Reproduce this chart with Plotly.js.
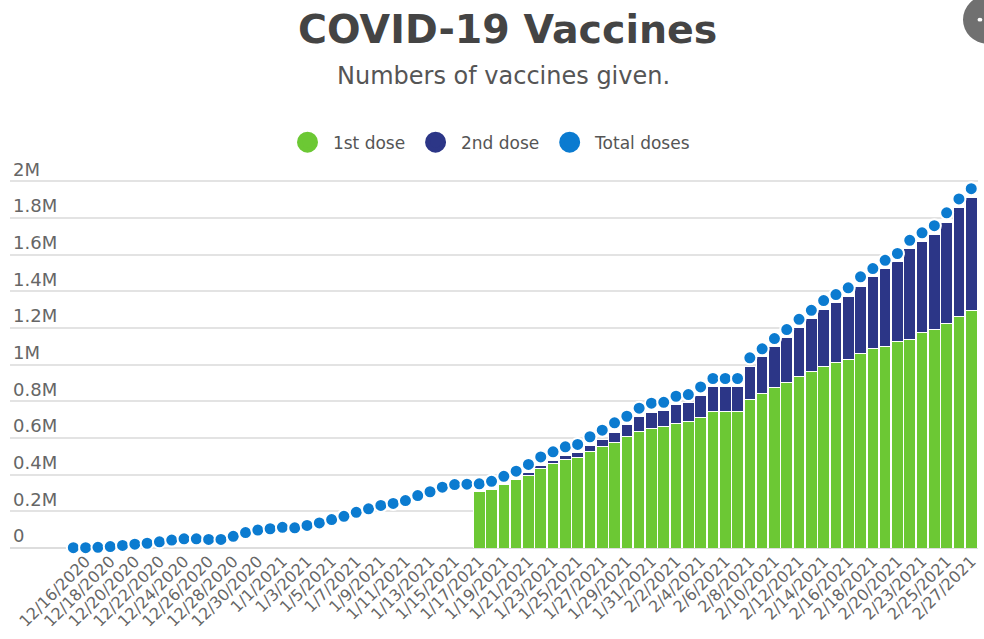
<!DOCTYPE html>
<html>
<head>
<meta charset="utf-8">
<script src="https://cdn.plot.ly/plotly-3.0.1.min.js"></script>
<style>html,body{margin:0;padding:0;background:#fff;}#chart{width:984px;height:639px;}</style>
</head>
<body>
<div id="chart"></div>
<script>
const dates = [
 "12/15/2020","12/16/2020","12/17/2020","12/18/2020","12/19/2020","12/20/2020","12/21/2020","12/22/2020","12/23/2020","12/24/2020",
 "12/25/2020","12/26/2020","12/27/2020","12/28/2020","12/29/2020","12/30/2020","12/31/2020",
 "1/1/2021","1/2/2021","1/3/2021","1/4/2021","1/5/2021","1/6/2021","1/7/2021","1/8/2021","1/9/2021","1/10/2021",
 "1/11/2021","1/12/2021","1/13/2021","1/14/2021","1/15/2021","1/16/2021","1/17/2021","1/18/2021","1/19/2021","1/20/2021",
 "1/21/2021","1/22/2021","1/23/2021","1/24/2021","1/25/2021","1/26/2021","1/27/2021","1/28/2021","1/29/2021","1/30/2021","1/31/2021",
 "2/1/2021","2/2/2021","2/3/2021","2/4/2021","2/5/2021","2/6/2021","2/7/2021","2/8/2021","2/9/2021","2/10/2021",
 "2/11/2021","2/12/2021","2/13/2021","2/14/2021","2/15/2021","2/16/2021","2/17/2021","2/18/2021","2/19/2021","2/20/2021",
 "2/22/2021","2/23/2021","2/24/2021","2/25/2021","2/26/2021","2/27/2021"
];

const firstDose = [
 null,null,null,null,null,null,null,null,null,null,
 null,null,null,null,null,null,null,null,null,null,
 null,null,null,null,null,null,null,null,null,null,
 null,null,null,
 310000,319000,346000,373000,396000,432000,460000,482000,495000,528000,
 552000,577000,606000,636000,650000,661000,679000,688000,714000,746000,
 746000,746000,810000,843000,874000,901000,934000,965000,992000,1010000,
 1028000,1061000,1087000,1101000,1128000,1137000,1177000,1192000,1225000,1265000,
 1297000
];

const secondDose = [
 null,null,null,null,null,null,null,null,null,null,
 null,null,null,null,null,null,null,null,null,null,
 null,null,null,null,null,null,null,null,null,null,
 null,null,null,
 2000,4000,6000,8000,14000,18000,19000,23000,28000,31000,
 40000,55000,68000,83000,91000,89000,104000,104000,118000,137000,
 137000,137000,182000,200000,224000,246000,267000,285000,309000,328000,
 342000,367000,393000,422000,437000,495000,497000,518000,552000,591000,
 614000
];

const totalDoses = [
 2000,2000,4000,8000,14000,21000,26000,34000,43000,50000,
 50000,47000,47000,64000,84000,98000,105000,113000,110000,123000,
 137000,155000,173000,195000,214000,232000,243000,259000,286000,307000,
 332000,346000,348000,350000,364000,391000,419000,456000,497000,525000,
 552000,565000,607000,643000,683000,719000,763000,790000,795000,828000,
 837000,879000,925000,925000,925000,1038000,1087000,1143000,1192000,1248000,
 1297000,1350000,1383000,1420000,1480000,1525000,1570000,1607000,1679000,1720000,
 1759000,1829000,1905000,1961000
];

const seriesNames = ["1st dose","2nd dose","Total doses"];
const yTickVals = [0,200000,400000,600000,800000,1000000,1200000,1400000,1600000,1800000,2000000];
const yTickText = ["0","0.2M","0.4M","0.6M","0.8M","1M","1.2M","1.4M","1.6M","1.8M","2M"];

const GREEN = "#6cc834", NAVY = "#2c3687", BLUE = "#0b7bd0";
const FONT = "DejaVu Sans, sans-serif";
const NB = "\u00a0";

const xTickVals = dates.filter((d, i) => i % 2 === 1);

const traces = [
  {type:"bar", x:dates, y:firstDose, name:seriesNames[0], marker:{color:GREEN, line:{color:"#ffffff", width:1}}, showlegend:false, hoverinfo:"x+y"},
  {type:"bar", x:dates, y:secondDose, name:seriesNames[1], marker:{color:NAVY, line:{color:"#ffffff", width:1}}, showlegend:false, hoverinfo:"x+y"},
  {type:"scatter", mode:"markers", x:dates, y:totalDoses, name:seriesNames[2], cliponaxis:false,
   marker:{color:BLUE, size:13, line:{color:"#ffffff", width:2}}, showlegend:false},
  {type:"scatter", mode:"markers", x:[null], y:[null], name:NB + seriesNames[0] + NB, marker:{color:GREEN, size:20, line:{color:GREEN, width:5}}, showlegend:true, hoverinfo:"skip"},
  {type:"scatter", mode:"markers", x:[null], y:[null], name:NB + seriesNames[1] + NB, marker:{color:NAVY, size:20, line:{color:NAVY, width:5}}, showlegend:true, hoverinfo:"skip"},
  {type:"scatter", mode:"markers", x:[null], y:[null], name:NB + seriesNames[2] + NB, marker:{color:BLUE, size:20, line:{color:BLUE, width:5}}, showlegend:true, hoverinfo:"skip"}
];

const layout = {
  width:984, height:639,
  paper_bgcolor:"#ffffff", plot_bgcolor:"#ffffff",
  font:{family:FONT, color:"#555555"},
  margin:{l:10, r:6, t:154.4, b:90.5, pad:0},
  barmode:"stack", bargap:0.06,
  title:{text:"<b>COVID-19 Vaccines</b>", font:{family:FONT, size:39.5, color:"#444444"},
         x:0.516, xref:"container", xanchor:"center", y:0.955, yref:"container", yanchor:"middle"},
  annotations:[{text:"Numbers of vaccines given.", xref:"paper", yref:"paper", x:0.5093, y:1.199,
                xanchor:"center", yanchor:"middle", showarrow:false, font:{family:FONT, size:24, color:"#555555"}}],
  legend:{orientation:"h", traceorder:"normal", x:0.5, xanchor:"center", y:1.0289, yanchor:"middle",
          font:{family:FONT, size:17, color:"#555555"}, bgcolor:"rgba(0,0,0,0)", itemsizing:"trace"},
  xaxis:{type:"category", range:[-5.15, 73.55], showgrid:false, zeroline:false, showline:false,
         tickmode:"array", tickvals:xTickVals, ticktext:xTickVals, tickangle:-45,
         tickfont:{family:FONT, size:16, color:"#666666"}, ticks:"", fixedrange:true},
  yaxis:{range:[0, 2150000], tickmode:"array", tickvals:yTickVals, ticktext:yTickText,
         showgrid:true, gridcolor:"#e3e3e3", gridwidth:1.5, zeroline:true, zerolinecolor:"#dddddd", zerolinewidth:1.5,
         showline:false, ticks:"", ticklabelposition:"inside", ticklabelshift:-12, ticklabelstandoff:0,
         tickfont:{family:FONT, size:18, color:"#666666"}, fixedrange:true},
  shapes:[
    {type:"circle", xref:"paper", yref:"paper", x0:0.9845, x1:1.034, y0:1.2801, y1:1.4019, fillcolor:"#707070", line:{width:0}, layer:"above"},
    {type:"circle", xref:"paper", yref:"paper", x0:0.9995, x1:1.0045, y0:1.336, y1:1.3461, fillcolor:"#ffffff", line:{width:0}, layer:"above"}
  ]
};

Plotly.newPlot("chart", traces, layout, {displayModeBar:false, responsive:false});
</script>
</body>
</html>
